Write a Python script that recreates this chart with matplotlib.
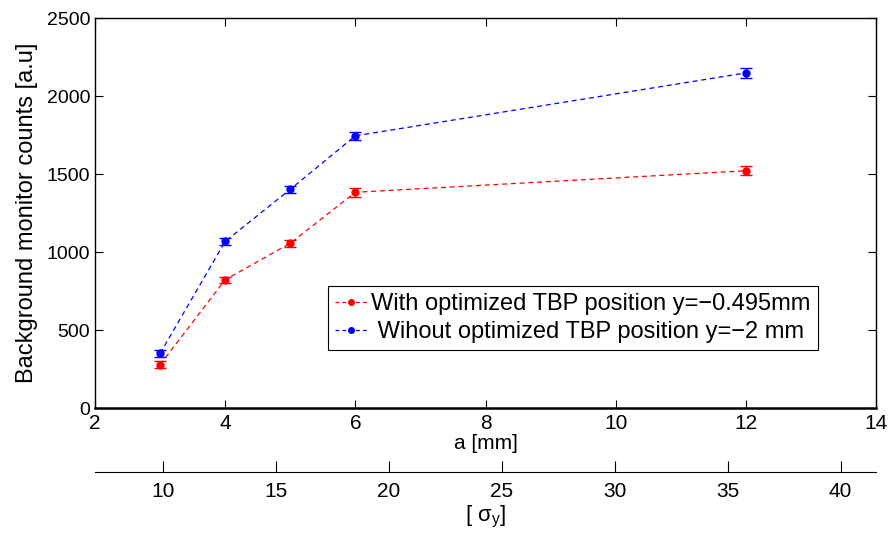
import numpy as np
import matplotlib
matplotlib.use("Agg")
import matplotlib.pyplot as plt
from matplotlib.lines import Line2D

# data
a_mm = [3, 4, 5, 6, 12]
with_opt = [278, 822, 1056, 1383, 1521]
with_err = [22, 20, 22, 28, 28]
without_opt = [350, 1068, 1402, 1745, 2148]
without_err = [22, 24, 24, 26, 30]

sigma_ticks = [10, 15, 20, 25, 30, 35, 40]
sigma_lim = (7.0, 41.57)

labels = ['With optimized TBP position y=\u22120.495mm',
          ' Wihout optimized TBP position y=\u22122 mm']

plt.rcParams['font.family'] = ['Liberation Sans', 'DejaVu Sans']

fig = plt.figure(figsize=(8.93, 5.38), dpi=100)
ax = fig.add_axes([0.1064, 0.2416, 0.8746, 0.7249])

ax.errorbar(a_mm, with_opt, yerr=with_err, fmt='o--', color='red', ms=5,
            lw=0.9, dashes=(4, 3), capsize=4, elinewidth=1, capthick=1)
ax.errorbar(a_mm, without_opt, yerr=without_err, fmt='o--', color='blue', ms=5,
            lw=0.9, dashes=(4, 3), capsize=4, elinewidth=1, capthick=1)

ax.set_xlim(2, 14)
ax.set_ylim(0, 2500)
ax.set_xticks(range(2, 15, 2))
ax.set_yticks(range(0, 2501, 500))
ax.tick_params(direction='in', top=True, right=True, length=6, width=0.8,
               labelsize=14)
ax.tick_params(axis='x', labelsize=15, pad=4)
ax.set_xlabel('a [mm]', fontsize=15, labelpad=1)
ax.set_ylabel('Background monitor counts [a.u]', fontsize=17, labelpad=6)
for s in ax.spines.values():
    s.set_linewidth(1.0)
ax.spines['bottom'].set_linewidth(1.8)

handles = [Line2D([], [], color='red', ls='--', dashes=(3, 2.5), marker='o', ms=4, lw=0.9),
           Line2D([], [], color='blue', ls='--', dashes=(3, 2.5), marker='o', ms=4, lw=0.9)]
leg = ax.legend(handles, labels, loc='lower left', bbox_to_anchor=(0.298, 0.149),
                fontsize=17, handlelength=1.4, handletextpad=0.15, borderpad=0.3,
                labelspacing=0.25, fancybox=False, framealpha=1,
                edgecolor='black', borderaxespad=0)
leg.get_frame().set_linewidth(0.8)

# secondary sigma axis below
ax2 = fig.add_axes([0.1064, 1 - 472 / 538, 0.8746, 0.0001])
ax2.set_xlim(*sigma_lim)
ax2.set_xticks(sigma_ticks)
ax2.set_yticks([])
for side in ['top', 'left', 'right']:
    ax2.spines[side].set_visible(False)
ax2.spines['bottom'].set_linewidth(0.8)
ax2.patch.set_alpha(0)
ax2.tick_params(axis='x', direction='in', length=8, width=0.8, labelsize=15, pad=7)
ax2.set_xlabel('[ \u03c3$_\\mathregular{y}$]', fontsize=16, labelpad=2)

fig.savefig('out.png', dpi=100)
